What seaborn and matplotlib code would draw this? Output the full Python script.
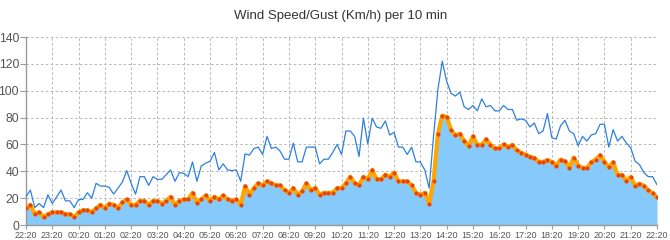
import numpy as np
import pandas as pd
import matplotlib
matplotlib.use("Agg")
import matplotlib.pyplot as plt
import seaborn as sns

title = "Wind Speed/Gust (Km/h) per 10 min"
tick_labels = ["22:20", "23:20", "00:20", "01:20", "02:20", "03:20", "04:20", "05:20",
               "06:20", "07:20", "08:20", "09:20", "10:20", "11:20", "12:20", "13:20",
               "14:20", "15:20", "16:20", "17:20", "18:20", "19:20", "20:20", "21:20", "22:20"]

speed = [12.5, 15, 8, 9.5, 6, 8, 9.5, 9.5, 9.5, 8, 8, 6, 9.5, 11, 11, 9.5, 12.5, 15, 12.5, 16,
         15, 12.5, 17, 19, 15, 15, 18, 18, 15, 18, 18, 16, 18, 21, 15, 18, 19, 19, 24, 16.5,
         19, 22, 18, 21, 19, 22, 19, 18, 19, 15, 29, 22.5, 27.5, 31, 29.5, 32.5, 31, 29.5, 29.5, 26,
         24, 27.5, 22.5, 25, 31, 26, 27.5, 22.5, 24, 24, 24, 27.5, 27.5, 31, 36, 31, 29.5, 36, 34, 41,
         34, 34, 37.5, 36, 39, 32.5, 32.5, 32.5, 29.5, 24, 22.5, 24, 16, 32.5, 68, 81.5, 80.5,
         70.75, 66.75, 68, 62.5, 58.75, 66, 59.75, 59.75, 63.75, 59.75, 57, 57, 60, 58, 59.75,
         55.5, 53.75, 52.5, 50.75, 50, 47, 47, 48.25, 47, 44.25, 48.75, 47.5, 42.75, 50.25,
         44.25, 42.5, 42.5, 46.75, 48.75, 52, 47.25, 43, 46.75, 37.25, 37.25, 33, 35.75, 29.25,
         30.75, 29.25, 25.75, 23.75, 20.5]

gust = [21, 26, 13, 16, 13, 22.5, 16, 21, 26, 18, 18, 13, 19, 19, 24, 20, 31, 29, 29, 28,
        23, 27.5, 32, 40.5, 31, 23, 36, 36, 29.5, 36, 34, 34, 37.5, 41, 32.5, 39, 38.5, 36, 47, 32.5,
        44, 46, 47.5, 54, 41, 45.5, 41, 40.5, 41, 32.5, 53, 52, 57, 58, 52.5, 66, 57, 58, 55, 49,
        49, 61, 47, 47, 58, 58, 58, 45.5, 49, 49, 54, 60, 52.5, 70, 70, 66, 51, 79.5, 60.5, 79.5,
        73, 72, 77.5, 67, 69, 58, 58, 52.5, 58, 47, 47, 41, 27.5, 66, 101, 122, 107,
        98, 96, 99, 88, 86, 89, 85, 94, 88, 89, 85, 85, 89, 86, 86, 78, 79, 78, 73, 76,
        68, 70, 83, 65, 64, 74, 78, 70, 68, 59, 66, 62.5, 67, 68, 75, 75, 58, 71, 62.5,
        66, 61, 57.5, 47.5, 45, 39, 36, 36, 30]

df = pd.DataFrame({"idx": np.arange(len(speed)), "speed": speed, "gust": gust})

sns.set_theme(style="white")
plt.rcParams["font.family"] = ["Liberation Sans", "DejaVu Sans"]

fig = plt.figure(figsize=(6.7, 2.4), dpi=100)
ax = fig.add_axes([26 / 670, 15 / 240, 631 / 670, 188 / 240])

ax.fill_between(df["idx"], 0, df["speed"], color="#86C9FB", lw=0, zorder=1)
sns.lineplot(data=df, x="idx", y="gust", ax=ax, color="#2D80DE", lw=0.9, zorder=3)
sns.lineplot(data=df, x="idx", y="speed", ax=ax, color="#FFA500", lw=3.0, zorder=4)
sns.scatterplot(data=df, x="idx", y="speed", ax=ax, color="#E8450C", s=9, linewidth=0, zorder=5)

ax.set_xlim(0, len(speed) - 1)
ax.set_ylim(0, 140)
ax.set_xticks(np.arange(0, len(speed), 6))
ax.set_xticklabels(tick_labels)
ax.set_yticks(np.arange(0, 141, 20))
ax.set_xlabel("")
ax.set_ylabel("")

ax.grid(True, color="#b5b5b5", linestyle=(0, (2.5, 2.5)), lw=0.7)
ax.set_axisbelow(True)
for s in ["top", "right"]:
    ax.spines[s].set_visible(False)
for s in ["left", "bottom"]:
    ax.spines[s].set_color("#9a9a9a")
    ax.spines[s].set_linewidth(1.0)

ax.tick_params(axis="y", which="both", left=True, length=4, width=0.8, color="#9a9a9a",
               labelsize=8.8, labelcolor="#555555", pad=1)
ax.tick_params(axis="x", which="both", bottom=True, length=3, width=0.8, color="#9a9a9a",
               labelsize=6.5, labelcolor="#555555", pad=1)

fig.text(0.508, 0.935, title, ha="center", va="center", fontsize=9.5, color="#333333")

fig.savefig("out.png", dpi=100)
